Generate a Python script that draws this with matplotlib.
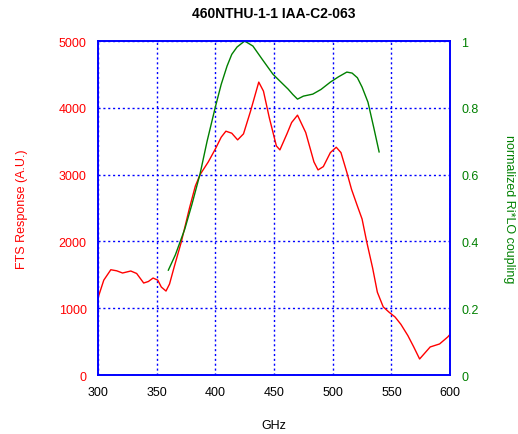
import matplotlib
matplotlib.use("Agg")
import matplotlib.pyplot as plt

plt.rcParams['font.family'] = ['Liberation Sans', 'DejaVu Sans']

# FTS response (left axis)
fts_ghz = [300, 305, 311, 316, 321, 328, 333, 339, 343, 347, 351, 354, 358, 361, 365, 371, 378,
           383, 387, 394, 400, 405, 409, 414, 419, 424, 430, 437, 441, 446, 452, 455, 461, 465, 470,
           477, 484, 487.5, 492, 498, 503, 507, 512, 516, 521, 525, 529, 534, 538, 543, 548,
           553, 558, 564, 569, 574, 578, 583, 591, 598, 600]
fts_val = [1150, 1420, 1576, 1560, 1527, 1557, 1520, 1377, 1400, 1452, 1420, 1317, 1257, 1362, 1620,
           1990, 2500, 2830, 3000, 3190, 3383, 3560, 3650, 3620, 3520, 3610, 3950, 4385, 4250, 3850,
           3430, 3370, 3610, 3780, 3890, 3630, 3190, 3070, 3120, 3330, 3410, 3330, 3035, 2780,
           2530, 2335, 1990, 1600, 1240, 1020, 940, 870, 760, 590, 420, 240, 320, 420, 465, 570, 610]

# Normalized Ri*LO coupling (right axis)
cpl_ghz = [360, 366, 374, 380, 387, 393, 400, 405, 410, 414, 418.5, 425, 432, 440, 449, 455,
           462, 466, 470, 475, 483, 490, 498, 505, 512, 516.5, 521, 525, 530, 535, 539.5]
cpl_val = [0.314, 0.36, 0.437, 0.51, 0.602, 0.70, 0.802, 0.87, 0.925, 0.96, 0.982, 1.0, 0.985,
           0.945, 0.901, 0.88, 0.856, 0.84, 0.826, 0.835, 0.841, 0.855, 0.877, 0.893, 0.907,
           0.904, 0.89, 0.862, 0.817, 0.74, 0.668]

x_ticks = [300, 350, 400, 450, 500, 550, 600]
y_ticks = [0, 1000, 2000, 3000, 4000, 5000]
y2_ticks = [0, 0.2, 0.4, 0.6, 0.8, 1]
y2_labels = ['0', '0.2', '0.4', '0.6', '0.8', '1']

RED = '#ff0000'
GREEN = '#008000'
BLUE = '#0000ff'

fig = plt.figure(figsize=(5.18, 4.35), dpi=100)
ax = fig.add_axes([0.189, 0.1356, 0.68, 0.7678])
ax.plot(fts_ghz, fts_val, color=RED, lw=1.0)
ax.set_xlim(300, 600)
ax.set_ylim(0, 5000)
ax.set_xticks(x_ticks)
ax.set_yticks(y_ticks)
ax.grid(True, color=BLUE, linestyle=(0, (1.5, 2)), lw=1.0)
ax.tick_params(axis='y', colors=RED, labelsize=9, length=0, pad=8)
ax.tick_params(axis='x', colors='black', labelsize=9, length=0, pad=8)
for s in ax.spines.values():
    s.set_color(BLUE)
    s.set_linewidth(1.2)
ax.set_xlabel('GHz', fontsize=9, labelpad=15)
ax.set_ylabel('FTS Response (A.U.)', color=RED, fontsize=9, labelpad=22)
ax.set_title('460NTHU-1-1 IAA-C2-063', fontsize=10, fontweight='bold', pad=17)

ax2 = ax.twinx()
ax2.plot(cpl_ghz, cpl_val, color=GREEN, lw=1.0)
ax2.set_ylim(0, 1)
ax2.set_yticks(y2_ticks)
ax2.set_yticklabels(y2_labels)
ax2.tick_params(axis='y', colors=GREEN, labelsize=9, length=0, pad=8)
for s in ax2.spines.values():
    s.set_color(BLUE)
    s.set_linewidth(1.2)
ax2.set_ylabel('normalized Ri*LO coupling', color=GREEN, fontsize=9, rotation=270, labelpad=26)

fig.savefig('out.png', dpi=100)
